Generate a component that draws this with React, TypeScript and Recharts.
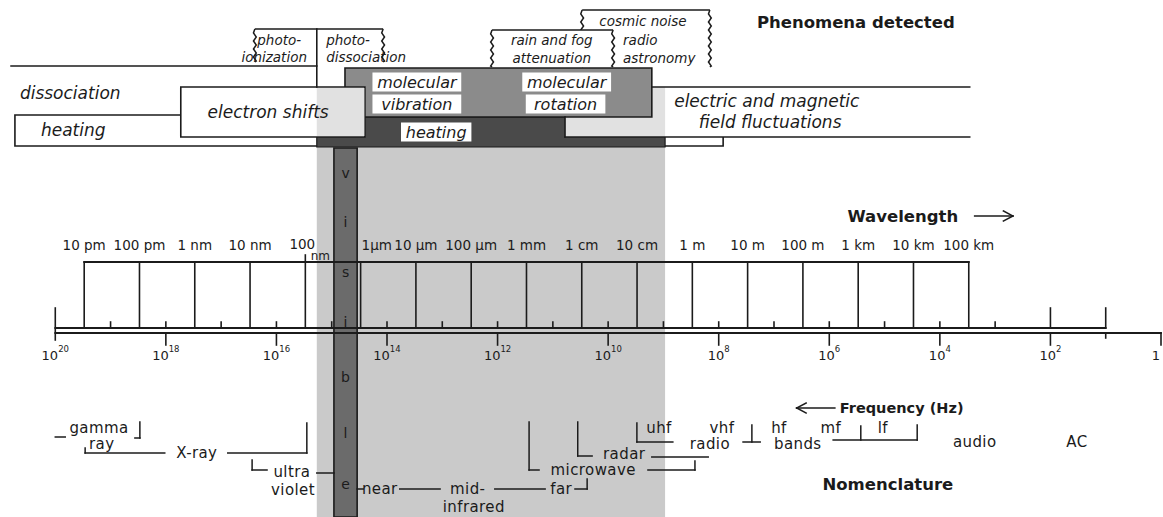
import React from 'react'
import { ComposedChart, XAxis, YAxis, ReferenceArea, ReferenceLine, Scatter } from 'recharts'

const WIDTH = 1163
const HEIGHT = 517
const INK = '#1b1b1b'
const FONT = '"DejaVu Sans", "Liberation Sans", Arial, sans-serif'

// ---- data: every x value is log10(frequency / Hz) ----
const freqLabelExponents = [20, 18, 16, 14, 12, 10, 8, 6, 4, 2, 0]
const freqDecadeTicks = [19, 18, 17, 16, 15, 14, 13, 12, 11, 10, 9, 8, 7, 6, 5, 4, 3]
const freqTallTicks = [2, 1]

const wavelengthLabels = ['10 pm', '100 pm', '1 nm', '10 nm', '100 nm', '1µm', '10 µm', '100 µm', '1 mm', '1 cm', '10 cm', '1 m', '10 m', '100 m', '1 km', '10 km', '100 km']
const wavelengthMetres = [1e-11, 1e-10, 1e-9, 1e-8, 1e-7, 1e-6, 1e-5, 1e-4, 1e-3, 1e-2, 1e-1, 1, 10, 100, 1e3, 1e4, 1e5]
const SPEED_OF_LIGHT = 3e8
const wavelengthAt = wavelengthMetres.map(m => Math.log10(SPEED_OF_LIGHT / m))

// phenomena detected, [high, low] frequency edge
const heatingSpan = [20.73, 7.92]
const dissociationSpan = [20.8, 15.27]
const electronShiftSpan = [17.73, 14.4]
const molecularSpan = [14.76, 9.21]
const infraredSpan = [15.27, 8.97]
const fieldSpan = [10.78, 3.46]
const photoSpan = [16.39, 14.07]
const photoSplit = 15.27
const rainFogSpan = [12.1, 9.91]
const cosmicSpan = [10.47, 8.16]
const visibleSpan = [14.96, 14.54]
const visibleLetters = ['v', 'i', 's', 'i', 'b', 'l', 'e']

// ---- layout (rows in px from the top) ----
const Y = {
  cosmicTop: 10, photoTop: 29, photoSide: 62, rainTop: 30, dissLine: 66,
  molTop: 68, molBottom: 117, boxTop: 87, boxBottom: 137,
  heatTop: 115, heatBottom: 146, bandBottom: 147,
  waveLabel: 245, waveLine: 262, freqTop: 308, freqUpper: 328, freqLower: 333, freqLabel: 355,
}
const letterRows = [173, 222, 272, 322, 377, 433, 484]

type Pt = [number, number]
type Tag = [string, number, number, ('start' | 'middle' | 'end')?]

const phenomenaTags: Tag[] = [
  ['dissociation', 20.64, 93, 'start'],
  ['heating', 20.26, 130, 'start'],
  ['electron shifts', 16.15, 112],
  ['electric and magnetic', 7.13, 101],
  ['field fluctuations', 7.07, 122],
]
const smallTags: Tag[] = [
  ['photo-', 15.95, 40], ['ionization', 16.04, 57],
  ['photo-', 15.1, 40, 'start'], ['dissociation', 15.1, 57, 'start'],
  ['rain and fog', 11.02, 40], ['attenuation', 11.02, 58],
  ['cosmic noise', 9.37, 21], ['radio', 9.73, 40, 'start'], ['astronomy', 9.73, 58, 'start'],
]
const boxedTags: Tag[] = [
  ['molecular', 13.46, 82], ['vibration', 13.46, 104],
  ['molecular', 10.75, 82], ['rotation', 10.77, 104],
  ['heating', 13.11, 132],
]
const titleTags: Tag[] = [
  ['Phenomena detected', 5.52, 22], ['Wavelength', 4.67, 216], ['Nomenclature', 4.94, 484],
]
const axisTitleTags: Tag[] = [['Frequency (Hz)', 5.81, 408, 'start']]
const nomenclatureTags: Tag[] = [
  ['gamma', 19.21, 428], ['ray', 19.16, 444], ['X-ray', 17.44, 453],
  ['ultra', 15.72, 472], ['violet', 15.7, 490],
  ['near', 14.13, 489], ['mid-', 12.54, 489], ['infrared', 12.43, 507], ['far', 10.85, 489],
  ['microwave', 10.27, 470], ['radar', 9.71, 454],
  ['uhf', 9.08, 428], ['vhf', 7.94, 428], ['radio', 8.16, 444],
  ['hf', 6.91, 428], ['bands', 6.57, 444], ['mf', 5.97, 428], ['lf', 5.03, 428],
  ['audio', 3.37, 442], ['AC', 1.52, 442],
]
const nomenclatureRules: Pt[][] = [
  [[20.0, 437], [19.82, 437]],
  [[18.47, 422], [18.47, 438], [18.56, 438]],
  [[19.46, 448], [19.46, 453], [18.02, 453]],
  [[16.88, 453], [15.45, 453], [15.45, 423]],
  [[16.44, 460], [16.44, 470], [16.17, 470]],
  [[15.27, 473], [14.96, 473]],
  [[14.54, 489], [14.43, 489]],
  [[13.77, 489], [13.04, 489]],
  [[12.05, 489], [11.14, 489]],
  [[10.6, 489], [10.38, 489], [10.38, 479]],
  [[11.43, 422], [11.43, 470], [11.25, 470]],
  [[9.28, 470], [8.43, 470], [8.43, 461]],
  [[10.55, 422], [10.55, 456], [10.29, 456]],
  [[9.21, 457], [8.19, 457]],
  [[9.48, 423], [9.48, 442], [8.83, 442]],
  [[7.4, 425], [7.4, 442]],
  [[7.56, 442], [7.25, 442]],
  [[5.93, 440], [4.41, 440]],
  [[5.43, 426], [5.43, 440]],
  [[4.41, 425], [4.41, 440]],
]
const arrowRules: Pt[][] = [
  [[3.37, 216], [2.68, 216]], [[2.85, 211], [2.68, 216], [2.85, 221]],
  [[6.59, 408], [5.9, 408]], [[6.42, 403], [6.59, 408], [6.42, 413]],
]

const toPoints = (tags: Tag[]) => tags.map(([text, v, y, anchor]) => ({ text, v, y, anchor }))

const line = (a: Pt, b: Pt, key: string, w = 1.6) => (
  <ReferenceLine key={key} segment={[{ x: a[0], y: a[1] }, { x: b[0], y: b[1] }]}
    stroke={INK} strokeWidth={w} strokeLinecap="square" ifOverflow="visible" />
)
const polyline = (pts: Pt[], key: string, w = 1.6) => pts.slice(1).map((p, i) => line(pts[i], p, `${key}-${i}`, w))

const wavy = (x: number, y0: number, y1: number) => {
  let d = `M${x},${y0}`
  let k = 0
  for (let y = y0 + 4; y <= y1; y += 4) { d += ` L${x + (k % 2 ? 1.4 : -1.4)},${y}`; k++ }
  return d + ` L${x},${y1}`
}

const bracketBox = (fill: boolean) => (p: any) => {
  const { x, y, width, height } = p
  const st = { stroke: INK, strokeWidth: 1.5, fill: 'none' }
  return (
    <g>
      {fill && <rect x={x} y={y} width={width} height={height} fill="#fff" />}
      <path d={`M${x},${y} L${x + width},${y}`} {...st} />
      <path d={wavy(x, y, y + height)} {...st} />
      <path d={wavy(x + width, y, y + height)} {...st} />
    </g>
  )
}

const textShape = (size: number, style: 'italic' | 'normal', weight: number, spacing = 0) => (p: any) => (
  <text x={p.cx} y={p.cy} textAnchor={p.payload.anchor ?? 'middle'} dominantBaseline="central"
    fontFamily={FONT} fontSize={size} fontStyle={style} fontWeight={weight} letterSpacing={spacing} fill={INK}>
    {p.payload.text}
  </text>
)

const boxedShape = (p: any) => {
  const w = p.payload.text.length * 9.2 + 6
  return (
    <g>
      <rect x={p.cx - w / 2} y={p.cy - 9.5} width={w} height={19} fill="#fff" />
      <text x={p.cx} y={p.cy} textAnchor="middle" dominantBaseline="central" fontFamily={FONT}
        fontSize={16} fontStyle="italic" fill={INK}>{p.payload.text}</text>
    </g>
  )
}

const freqShape = (p: any) => {
  const e = p.payload.exp
  return (
    <text x={e === 0 ? p.cx - 1 : p.cx} y={p.cy} textAnchor={e === 0 ? 'end' : 'middle'} dominantBaseline="central"
      fontFamily={FONT} fontSize={13} fill={INK}>
      {e === 0 ? '1' : <>10<tspan dy={-6} fontSize={8.5}>{e}</tspan></>}
    </text>
  )
}

const waveShape = (p: any) => {
  const t = p.payload.text
  const base = { fontFamily: FONT, fontSize: 13.5, fill: INK, dominantBaseline: 'central' as const }
  if (t === '100 nm') {
    return (
      <g>
        <text x={p.cx - 3} y={p.cy - 1} textAnchor="middle" {...base}>100</text>
        <text x={p.cx + 15} y={p.cy + 11} textAnchor="middle" {...base} fontSize={12}>nm</text>
      </g>
    )
  }
  return <text x={t === '1µm' ? p.cx + 1 : p.cx} y={p.cy} textAnchor={t === '1µm' ? 'start' : 'middle'} {...base}>{t}</text>
}

export default function App() {
  const waveLabelPoints = wavelengthLabels.map((text, i) => ({ text, v: wavelengthAt[i], y: Y.waveLabel }))
  const freqLabelPoints = freqLabelExponents.map(exp => ({ exp, v: exp, y: Y.freqLabel }))
  const letterPoints = visibleLetters.map((text, i) => ({ text, v: (visibleSpan[0] + visibleSpan[1]) / 2, y: letterRows[i] }))

  return (
    <div style={{ position: 'absolute', left: 0, top: 0, width: WIDTH, height: HEIGHT, background: '#fff' }}>
      <ComposedChart width={WIDTH} height={HEIGHT} margin={{ top: 0, right: 2, bottom: 0, left: 0 }}>
        <XAxis type="number" dataKey="v" domain={[0, 21]} reversed hide allowDataOverflow />
        <YAxis type="number" dataKey="y" domain={[0, HEIGHT]} reversed hide allowDataOverflow />

        {/* phenomena detected */}
        <ReferenceArea x1={heatingSpan[0]} x2={heatingSpan[1]} y1={Y.heatTop} y2={Y.heatBottom}
          fill="#fff" fillOpacity={1} stroke={INK} strokeWidth={1.6} ifOverflow="visible" />
        <ReferenceArea x1={infraredSpan[0]} x2={infraredSpan[1]} y1={Y.bandBottom} y2={HEIGHT}
          fill="#cacaca" fillOpacity={1} ifOverflow="visible" />
        <ReferenceArea x1={infraredSpan[0]} x2={infraredSpan[1]} y1={Y.molBottom} y2={Y.bandBottom}
          fill="#4a4a4a" fillOpacity={1} stroke={INK} strokeWidth={1.2} ifOverflow="visible" />
        <ReferenceArea x1={fieldSpan[0]} x2={fieldSpan[1]} y1={Y.boxTop} y2={Y.boxBottom}
          fill="#fff" fillOpacity={1} ifOverflow="visible" />
        <ReferenceArea x1={fieldSpan[0]} x2={infraredSpan[1]} y1={Y.boxTop} y2={Y.boxBottom}
          fill="#c4c4c4" fillOpacity={0.5} ifOverflow="visible" />
        <ReferenceArea x1={molecularSpan[0]} x2={molecularSpan[1]} y1={Y.molTop} y2={Y.molBottom}
          fill="#8b8b8b" fillOpacity={1} stroke={INK} strokeWidth={1.6} ifOverflow="visible" />
        <ReferenceArea x1={electronShiftSpan[0]} x2={electronShiftSpan[1]} y1={Y.boxTop} y2={Y.boxBottom}
          fill="#fff" fillOpacity={1} stroke={INK} strokeWidth={1.6} ifOverflow="visible" />
        <ReferenceArea x1={infraredSpan[0]} x2={electronShiftSpan[1]} y1={Y.boxTop + 1} y2={Y.boxBottom - 1}
          fill="#c4c4c4" fillOpacity={0.5} ifOverflow="visible" />
        <ReferenceArea x1={cosmicSpan[0]} x2={cosmicSpan[1]} y1={Y.cosmicTop} y2={Y.molTop - 1}
          ifOverflow="visible" shape={bracketBox(true)} />
        <ReferenceArea x1={rainFogSpan[0]} x2={rainFogSpan[1]} y1={Y.rainTop} y2={Y.molTop - 1}
          ifOverflow="visible" shape={bracketBox(true)} />
        <ReferenceArea x1={photoSpan[0]} x2={photoSpan[1]} y1={Y.photoTop} y2={Y.photoSide}
          ifOverflow="visible" shape={bracketBox(false)} />
        <ReferenceArea x1={visibleSpan[0]} x2={visibleSpan[1]} y1={Y.bandBottom + 1} y2={HEIGHT}
          fill="#6b6b6b" fillOpacity={1} stroke={INK} strokeWidth={1.6} ifOverflow="visible" />

        {line([dissociationSpan[0], Y.dissLine], [dissociationSpan[1], Y.dissLine], 'diss')}
        {line([photoSplit, Y.photoTop], [photoSplit, Y.boxTop], 'photo-split')}
        {line([molecularSpan[1], Y.boxTop], [fieldSpan[1], Y.boxTop], 'field-top')}
        {line([fieldSpan[0], Y.boxBottom], [fieldSpan[1], Y.boxBottom], 'field-bottom')}
        {line([fieldSpan[0], Y.molBottom], [fieldSpan[0], Y.boxBottom], 'field-left')}

        {/* wavelength scale */}
        {line([wavelengthAt[0], Y.waveLine], [wavelengthAt[wavelengthAt.length - 1], Y.waveLine], 'wave-line', 1.8)}
        {wavelengthAt.map((v, i) =>
          line([v, wavelengthLabels[i] === '100 nm' ? Y.waveLine - 7 : Y.waveLine], [v, Y.freqUpper], `wt-${i}`))}

        {/* frequency scale */}
        {line([20, Y.freqUpper], [1, Y.freqUpper], 'f-up', 1.8)}
        {line([20, Y.freqLower], [0, Y.freqLower], 'f-low', 1.8)}
        {line([20, Y.freqTop], [20, Y.freqLower + 7], 'f-left')}
        {freqDecadeTicks.map(e => line([e, Y.freqUpper - 6], [e, Y.freqUpper], `fd-${e}`))}
        {freqTallTicks.map(e => line([e, Y.freqTop], [e, Y.freqUpper], `ft-${e}`))}
        {freqLabelExponents.filter(e => e !== 20).map(e => line([e, Y.freqLower], [e, Y.freqLower + 12], `fl-${e}`))}
        {line([1, Y.freqLower], [1, Y.freqLower + 5], 'f-one')}

        {/* nomenclature brackets and arrows */}
        {nomenclatureRules.map((pts, i) => polyline(pts, `nr-${i}`, 1.5))}
        {arrowRules.map((pts, i) => polyline(pts, `ar-${i}`, 1.6))}

        <Scatter data={toPoints(phenomenaTags)} shape={textShape(17, 'italic', 400)} isAnimationActive={false} />
        <Scatter data={toPoints(smallTags)} shape={textShape(13.5, 'italic', 400)} isAnimationActive={false} />
        <Scatter data={toPoints(boxedTags)} shape={boxedShape} isAnimationActive={false} />
        <Scatter data={toPoints(titleTags)} shape={textShape(16.5, 'normal', 700)} isAnimationActive={false} />
        <Scatter data={toPoints(axisTitleTags)} shape={textShape(14.5, 'normal', 700)} isAnimationActive={false} />
        <Scatter data={toPoints(nomenclatureTags)} shape={textShape(15, 'normal', 400, 0.4)} isAnimationActive={false} />
        <Scatter data={letterPoints} shape={textShape(14, 'normal', 400)} isAnimationActive={false} />
        <Scatter data={waveLabelPoints} shape={waveShape} isAnimationActive={false} />
        <Scatter data={freqLabelPoints} shape={freqShape} isAnimationActive={false} />
      </ComposedChart>
    </div>
  )
}
